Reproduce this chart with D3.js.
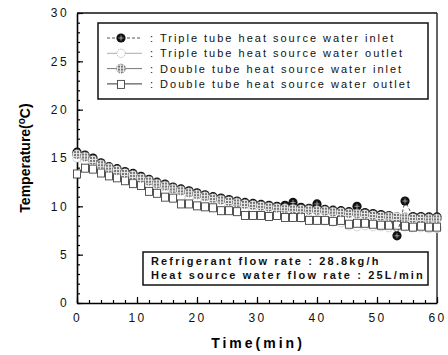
<!DOCTYPE html>
<html>
<head>
<meta charset="utf-8">
<script src="https://cdn.jsdelivr.net/npm/d3@7"></script>
<style>
  body { margin: 0; background: #fff; }
  svg { font-family: "Liberation Sans", Arial, sans-serif; }
  .tick text { font-size: 12px; letter-spacing: 2.4px; fill: #111; }
  .legend-text { font-size: 11px; letter-spacing: 2px; fill: #111; }
  .info-text { font-size: 11px; font-weight: bold; letter-spacing: 2.15px; fill: #111; }
</style>
</head>
<body>
<div id="chart"></div>
<script>
const WIDTH = 448, HEIGHT = 355;
const MARGIN = { top: 13, right: 11, bottom: 52, left: 77 };
const PLOT_W = WIDTH - MARGIN.left - MARGIN.right, PLOT_H = HEIGHT - MARGIN.top - MARGIN.bottom;

// sampling times (min)
const times = [0, 1.33, 2.67, 4, 5.33, 6.67, 8, 9.33, 10.67, 12, 13.33, 14.67, 16, 17.33, 18.67, 20,
  21.33, 22.67, 24, 25.33, 26.67, 28, 29.33, 30.67, 32, 33.33, 34.67, 36, 37.33, 38.67, 40,
  41.33, 42.67, 44, 45.33, 46.67, 48, 49.33, 50.67, 52, 53.33, 54.67, 56, 57.33, 58.67, 60];
const tripleInlet = [15.6, 15.3, 15.0, 14.5, 14.1, 13.9, 13.6, 13.4, 13.1, 12.8, 12.5, 12.3, 12.0, 11.8, 11.6, 11.4,
  11.2, 11.0, 10.85, 10.7, 10.55, 10.4, 10.3, 10.2, 10.1, 10.0, 10.1, 10.4, 9.9, 9.8, 10.25,
  9.7, 9.6, 9.55, 9.45, 10.0, 9.35, 9.25, 9.15, 9.05, 6.95, 10.55, 8.95, 8.95, 8.9, 8.9];
const tripleOutlet = [15.0, 14.7, 14.2, 13.8, 13.4, 13.1, 12.8, 12.5, 12.2, 11.9, 11.6, 11.3, 11.1, 10.9, 10.7, 10.5,
  10.3, 10.1, 9.95, 9.8, 9.65, 9.5, 9.4, 9.3, 9.2, 9.1, 9.0, 8.9, 8.8, 8.7, 8.6,
  8.5, 8.4, 8.3, 8.0, 7.9, 8.0, 7.9, 7.9, 7.8, 7.8, 7.9, 7.8, 7.8, 7.7, 7.7];
const doubleInlet = [15.4, 15.15, 14.8, 14.35, 14.0, 13.75, 13.45, 13.25, 12.95, 12.65, 12.35, 12.15, 11.85, 11.65, 11.45, 11.25,
  11.05, 10.85, 10.7, 10.55, 10.4, 10.25, 10.15, 10.05, 9.95, 9.85, 9.8, 9.75, 9.7, 9.65, 9.6,
  9.55, 9.45, 9.4, 9.3, 9.25, 9.2, 9.1, 9.0, 8.95, 8.9, 8.85, 8.8, 8.8, 8.75, 8.75];
const doubleOutlet = [13.4, 14.0, 13.9, 13.5, 13.2, 13.0, 12.7, 12.4, 12.2, 11.6, 11.4, 11.0, 10.9, 10.3, 10.3, 10.1,
  10.0, 9.9, 9.6, 9.6, 9.5, 9.1, 9.1, 9.1, 9.0, 9.1, 8.9, 8.9, 8.9, 8.6, 8.6,
  8.6, 8.5, 8.6, 8.2, 8.3, 8.3, 8.2, 8.1, 8.1, 8.1, 8.0, 7.9, 8.0, 7.9, 7.9];

const legendLabels = [": Triple tube heat source water inlet", ": Triple tube heat source water outlet",
  ": Double tube heat source water inlet", ": Double tube heat source water outlet"];
const infoLines = ["Refrigerant flow rate : 28.8kg/h", "Heat source water flow rate : 25L/min"];
const xMajor = [0, 10, 20, 30, 40, 50, 60];
const yMajor = [0, 5, 10, 15, 20, 25, 30];

const svg = d3.select("#chart").append("svg")
  .attr("width", WIDTH).attr("height", HEIGHT);

// hatched fill for the double tube inlet markers
const pat = svg.append("defs").append("pattern")
  .attr("id", "hatch").attr("patternUnits", "userSpaceOnUse")
  .attr("width", 3).attr("height", 3);
pat.append("rect").attr("width", 3).attr("height", 3).attr("fill", "#e8e8e8");
pat.append("rect").attr("width", 2).attr("height", 2).attr("fill", "#777");

const g = svg.append("g").attr("transform", "translate(" + MARGIN.left + "," + MARGIN.top + ")");

const x = d3.scaleLinear().domain([0, 60]).range([0, PLOT_W]);
const y = d3.scaleLinear().domain([0, 30]).range([PLOT_H, 0]);

// minor ticks
g.append("g").attr("transform", "translate(0," + PLOT_H + ")")
  .call(d3.axisBottom(x).tickValues(d3.range(0, 61, 2)).tickSize(-3).tickFormat(""))
  .call(a => a.select(".domain").remove());
g.append("g")
  .call(d3.axisLeft(y).tickValues(d3.range(0, 31, 1)).tickSize(-3).tickFormat(""))
  .call(a => a.select(".domain").remove());

// major axes
g.append("g").attr("class", "xaxis").attr("transform", "translate(0," + PLOT_H + ")")
  .call(d3.axisBottom(x).tickValues(xMajor).tickSize(-6).tickPadding(10).tickSizeOuter(0));
g.append("g").attr("class", "yaxis")
  .call(d3.axisLeft(y).tickValues(yMajor).tickSize(-6).tickPadding(8).tickSizeOuter(0));
g.selectAll(".domain").attr("stroke-width", 1.6);
g.selectAll(".tick line").attr("stroke-width", 1.2);

// frame top and right
g.append("line").attr("x1", 0).attr("x2", PLOT_W).attr("y1", 0).attr("y2", 0)
  .attr("stroke", "#111").attr("stroke-width", 1.3);
g.append("line").attr("x1", PLOT_W).attr("x2", PLOT_W).attr("y1", 0).attr("y2", PLOT_H)
  .attr("stroke", "#111").attr("stroke-width", 1.3);

// axis titles
svg.append("text").attr("x", 258).attr("y", 348).attr("text-anchor", "middle")
  .style("font-size", "14px").style("font-weight", "bold").style("letter-spacing", "3px")
  .text("Time(min)");
const yt = svg.append("text").attr("transform", "translate(30,158) rotate(-90)")
  .attr("text-anchor", "middle").style("font-size", "14px").style("font-weight", "bold");
yt.append("tspan").text("Temperature(");
yt.append("tspan").attr("dy", -5).style("font-size", "10px").text("o");
yt.append("tspan").attr("dy", 5).text("C)");

const line = d3.line().x(d => x(d[0])).y(d => y(d[1]));
function Pairs(vals) { return times.map((t, i) => [t, vals[i]]); }

// markers
function DrawCircle(sel, kind) {
  if (kind === "tin") {
    sel.append("circle").attr("r", 4.6).attr("fill", "#111");
    sel.append("path").attr("d", "M-2.5,0H2.5M0,-2.5V2.5").attr("stroke", "#bbb").attr("stroke-width", 0.8);
  } else if (kind === "tout") {
    sel.append("circle").attr("r", 4.2).attr("fill", "#fff")
      .attr("stroke", "#aaa").attr("stroke-width", 1).attr("stroke-dasharray", "1,1");
  } else if (kind === "din") {
    sel.append("circle").attr("r", 4.6).attr("fill", "url(#hatch)")
      .attr("stroke", "#888").attr("stroke-width", 0.8).attr("stroke-dasharray", "1,1");
  } else {
    sel.append("rect").attr("x", -3.5).attr("y", -3.5).attr("width", 7).attr("height", 8)
      .attr("fill", "#fff").attr("stroke", "#444").attr("stroke-width", 0.9);
  }
}

function DrawSeries(vals, kind, lineColor, dash) {
  const data = Pairs(vals);
  g.append("path").datum(data).attr("d", line).attr("fill", "none")
    .attr("stroke", lineColor).attr("stroke-width", 1).attr("stroke-dasharray", dash);
  g.append("g").selectAll("g").data(data).join("g")
    .attr("transform", d => "translate(" + x(d[0]) + "," + y(d[1]) + ")")
    .each(function () { DrawCircle(d3.select(this), kind); });
}

DrawSeries(tripleOutlet, "tout", "#aaa", null);
DrawSeries(doubleOutlet, "dout", "#666", null);
DrawSeries(tripleInlet, "tin", "#555", "3,2");
DrawSeries(doubleInlet, "din", "#888", null);

// legend
const LEG_X = 98, LEG_Y = 23;
svg.append("rect").attr("x", LEG_X).attr("y", LEG_Y).attr("width", 330).attr("height", 76)
  .attr("fill", "#fff").attr("stroke", "#111").attr("stroke-width", 1.5);
const kinds = ["tin", "tout", "din", "dout"];
const legColors = ["#555", "#aaa", "#777", "#333"];
kinds.forEach((k, i) => {
  const cy = LEG_Y + 15 + i * 15.3;
  svg.append("line").attr("x1", 107).attr("x2", 142).attr("y1", cy).attr("y2", cy)
    .attr("stroke", legColors[i]).attr("stroke-width", 1).attr("stroke-dasharray", i === 0 ? "3,2" : null);
  DrawCircle(svg.append("g").attr("transform", "translate(" + 121 + "," + cy + ")"), k);
  svg.append("text").attr("class", "legend-text").attr("x", 150).attr("y", cy + 4).text(legendLabels[i]);
});

// info box
svg.append("rect").attr("x", 143).attr("y", 252).attr("width", 285).attr("height", 33)
  .attr("fill", "#fff").attr("stroke", "#111").attr("stroke-width", 1.5);
infoLines.forEach((t, i) => {
  svg.append("text").attr("class", "info-text").attr("x", 151).attr("y", 265 + i * 14).text(t);
});
</script>
</body>
</html>
